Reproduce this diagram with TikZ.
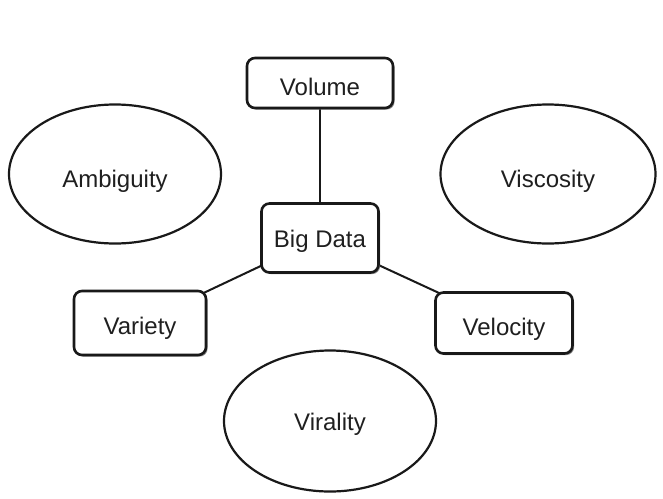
\documentclass[tikz,border=0pt]{standalone}
\usepackage{fontspec}
\setmainfont{Liberation Sans}
\usetikzlibrary{shapes.geometric,shadows,backgrounds}
\newcommand{\lowered}[2]{\raisebox{-#1pt}{#2}}
\begin{document}
\begin{tikzpicture}[x=1pt,y=-1pt,
  lbl/.style={font=\fontsize{24}{28}\selectfont, text=black!88, text height=17.2pt, text depth=5pt},
  vbox/.style={lbl, draw=black!90, line width=2.6pt, rounded corners=8pt, fill=white,
    inner sep=0pt, drop shadow={shadow xshift=1.6pt, shadow yshift=-1.6pt, fill=black!55, opacity=0.8}},
  vell/.style={lbl, draw=black!90, line width=2.2pt, ellipse, fill=white, inner sep=0pt},
  link/.style={draw=black!90, line width=2pt}]
\useasboundingbox (0,0) rectangle (663,498);
\node[vbox, minimum width=146pt, minimum height=50pt] (volume) at (320,83) {\lowered{5.9}{Volume}};
\node[vbox, minimum width=117pt, minimum height=69pt] (bigdata) at (320,238) {\lowered{3}{Big Data}};
\node[vbox, minimum width=132pt, minimum height=64pt] (variety) at (140,323) {\lowered{5.8}{Variety}};
\node[vbox, minimum width=137pt, minimum height=61pt] (velocity) at (504,323) {\lowered{6.2}{Velocity}};
\node[vell, minimum width=212pt, minimum height=139pt] (ambiguity) at (115,174) {\lowered{6.9}{Ambiguity}};
\node[vell, minimum width=215pt, minimum height=139pt] (viscosity) at (548,174) {\lowered{7.6}{Viscosity}};
\node[vell, minimum width=212pt, minimum height=141pt] (virality) at (330,421) {\lowered{3.4}{Virality}};
\begin{scope}[on background layer]
\fill[white] (0,0) rectangle (663,498);
\draw[link] (bigdata.center) -- (volume.center);
\draw[link] (bigdata.center) -- (variety.center);
\draw[link] (bigdata.center) -- (velocity.center);
\end{scope}
\end{tikzpicture}
\end{document}
